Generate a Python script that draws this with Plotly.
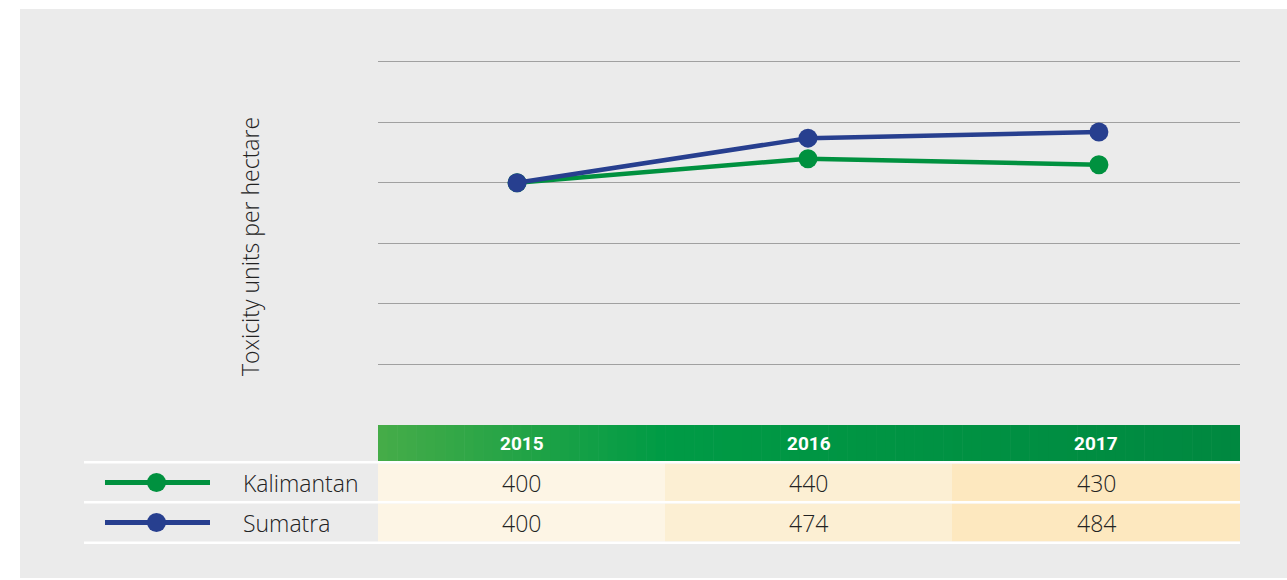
import plotly.graph_objects as go

# ---------------- data ----------------
years = ["2015", "2016", "2017"]
kalimantan = [400, 440, 430]
sumatra = [400, 474, 484]
series_names = ["Kalimantan", "Sumatra"]
y_title = "Toxicity units per hectare"
grid_vals = [100, 200, 300, 400, 500, 600]

# ---------------- styling ----------------
W, H = 1287, 580
GREEN = "#00913f"
BLUE = "#273f8f"
BG = "#ebebeb"
TXT = "#222222"
FONT = "Open Sans"
cell_colors = ["#fdf5e5", "#fcefd3", "#fde8bf"]


def X(px):
    return px / W


def Y(py):
    return 1 - py / H


fig = go.Figure()

series = [kalimantan, sumatra]
colors = [GREEN, BLUE]
for name, vals, col in zip(series_names, series, colors):
    fig.add_trace(go.Scatter(
        x=years, y=vals, name=name, mode="lines+markers",
        line=dict(color=col, width=4.5),
        marker=dict(color=col, size=19),
        showlegend=False, hoverinfo="x+y+name",
    ))

shapes = []
annotations = []

# grey panel
shapes.append(dict(type="rect", xref="paper", yref="paper", layer="below",
                   x0=X(20), x1=X(W), y0=Y(578), y1=Y(9),
                   fillcolor=BG, line=dict(width=0)))

# table geometry
col_edges = [378, 665, 952, 1240]
head_top, head_bot = 425, 461
row_tops = [463.5, 503.5]
row_h = 38
label_left = 84


def lerp(c1, c2, t):
    return tuple(int(round(a + (b - a) * t)) for a, b in zip(c1, c2))


stops = [(0.0, (70, 172, 72)), (0.33, (0, 155, 69)), (1.0, (0, 136, 64))]


def grad(t):
    for (t0, c0), (t1, c1) in zip(stops[:-1], stops[1:]):
        if t <= t1:
            return lerp(c0, c1, (t - t0) / (t1 - t0))
    return stops[-1][1]


n = 90
x0h, x1h = col_edges[0], col_edges[-1]
for i in range(n):
    a = x0h + (x1h - x0h) * i / n
    b = x0h + (x1h - x0h) * (i + 1) / n + 0.6
    c = grad((i + 0.5) / n)
    shapes.append(dict(type="rect", xref="paper", yref="paper", layer="above",
                       x0=X(a), x1=X(min(b, x1h)), y0=Y(head_bot), y1=Y(head_top),
                       fillcolor="rgb(%d,%d,%d)" % c, line=dict(width=0)))

# header labels
for j, yr in enumerate(years):
    cx = (col_edges[j] + col_edges[j + 1]) / 2
    annotations.append(dict(xref="paper", yref="paper", x=X(cx), y=Y((head_top + head_bot) / 2),
                            text="<b>%s</b>" % yr, showarrow=False,
                            font=dict(family="Roboto", size=19, color="white"),
                            xanchor="center", yanchor="middle"))

# body cells
for r, (name, vals, col) in enumerate(zip(series_names, series, colors)):
    top = row_tops[r]
    bot = top + row_h
    cy = (top + bot) / 2
    for j, v in enumerate(vals):
        shapes.append(dict(type="rect", xref="paper", yref="paper", layer="above",
                           x0=X(col_edges[j]), x1=X(col_edges[j + 1]), y0=Y(bot), y1=Y(top),
                           fillcolor=cell_colors[j], line=dict(width=0)))
        cx = (col_edges[j] + col_edges[j + 1]) / 2
        annotations.append(dict(xref="paper", yref="paper", x=X(cx), y=Y(cy),
                                text=str(v), showarrow=False,
                                font=dict(family=FONT, size=23, color=TXT, weight=300),
                                xanchor="center", yanchor="middle"))
    # legend key
    shapes.append(dict(type="line", xref="paper", yref="paper", layer="above",
                       x0=X(105), x1=X(210), y0=Y(cy), y1=Y(cy),
                       line=dict(color=col, width=5)))
    shapes.append(dict(type="circle", xref="paper", yref="paper", layer="above",
                       x0=X(147), x1=X(166), y0=Y(cy + 9.5), y1=Y(cy - 9.5),
                       fillcolor=col, line=dict(width=0)))
    annotations.append(dict(xref="paper", yref="paper", x=X(241), y=Y(cy),
                            text=name, showarrow=False,
                            font=dict(family=FONT, size=23, color=TXT, weight=300),
                            xanchor="left", yanchor="middle"))

# white separators
for yy in [462.2, 502.2, 542.8]:
    shapes.append(dict(type="line", xref="paper", yref="paper", layer="above",
                       x0=X(label_left), x1=X(col_edges[-1]), y0=Y(yy), y1=Y(yy),
                       line=dict(color="white", width=2.6)))

# y-axis title
annotations.append(dict(xref="paper", yref="paper", x=X(250), y=Y(247),
                        text=y_title, showarrow=False, textangle=-90,
                        font=dict(family=FONT, size=23, color=TXT, weight=300),
                        xanchor="center", yanchor="middle"))

# y axis: 0 at 424.5 px, 600 at 62 px -> extend range a bit so the 600 grid line shows
px_per_unit = (424.5 - 62) / 600
y_max = 620
y_top_px = 424.5 - y_max * px_per_unit

fig.update_layout(
    width=W, height=H,
    margin=dict(l=0, r=0, t=0, b=0),
    paper_bgcolor="white",
    plot_bgcolor="rgba(0,0,0,0)",
    shapes=shapes,
    annotations=annotations,
    xaxis=dict(domain=[X(378), X(1240)], type="category",
               range=[-0.478, 2.485], showgrid=False, zeroline=False,
               showticklabels=False, ticks="", showline=False, fixedrange=True),
    yaxis=dict(domain=[Y(424.5), Y(y_top_px)], range=[0, y_max],
               tickvals=grid_vals, showticklabels=False, ticks="",
               showgrid=True, gridcolor="#a0a0a0", gridwidth=1,
               zeroline=False, showline=False, fixedrange=True),
)

fig.write_html("out.html", config={"displayModeBar": False},
               post_script="document.body.style.margin='0';document.body.style.overflow='hidden';")
